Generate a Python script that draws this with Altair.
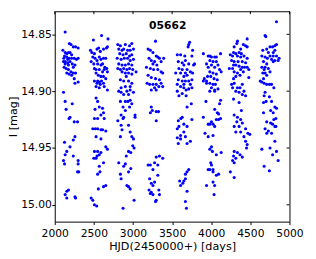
import altair as alt
import pandas as pd

# Observing seasons: (HJD-2450000, I mag)
season1 = [(2133,14.848),(2104,14.864),(2133,14.866),(2154,14.867),(2175,14.866),(2195,14.866),(2216,14.868),
           (2187,14.858),(2208,14.859),(2237,14.861),(2266,14.861),(2299,14.862),(2125,14.869),(2154,14.870),
           (2183,14.871),(2216,14.871),(2249,14.871),(2278,14.872),(2299,14.871),(2112,14.874),(2133,14.876),
           (2166,14.875),(2195,14.874),(2224,14.876),(2258,14.877),(2120,14.879),(2145,14.880),(2175,14.881),
           (2208,14.883),(2237,14.884),(2266,14.884),(2154,14.884),(2183,14.885),(2216,14.886),(2249,14.889),
           (2299,14.892),(2258,14.893),(2133,14.874),(2175,14.877),(2116,14.871),(2166,14.872),(2237,14.879),
           (2112,14.901),(2133,14.909),(2145,14.916),(2224,14.911),(2195,14.923),(2183,14.924),(2249,14.927),
           (2291,14.927),(2125,14.945),(2154,14.953),(2133,14.956),(2112,14.961),(2125,14.964),(2195,14.949),
           (2237,14.943),(2258,14.940),(2237,14.957),(2299,14.961),(2299,14.964),(2291,14.971),(2307,14.971),
           (2154,14.988),(2175,14.987),(2133,14.991),(2154,14.994),(2266,14.994),(2258,14.993)]
season2 = [(2494,14.855),(2598,14.851),(2681,14.854),(2457,14.864),(2474,14.866),(2507,14.867),(2540,14.863),
           (2561,14.862),(2582,14.865),(2623,14.863),(2661,14.862),(2673,14.861),(2486,14.870),(2515,14.871),
           (2540,14.873),(2569,14.870),(2590,14.872),(2623,14.871),(2652,14.871),(2465,14.874),(2499,14.876),
           (2548,14.876),(2590,14.877),(2611,14.876),(2640,14.879),(2665,14.880),(2507,14.880),(2528,14.881),
           (2569,14.881),(2611,14.883),(2632,14.881),(2673,14.883),(2528,14.884),(2557,14.886),(2590,14.887),
           (2623,14.887),(2548,14.891),(2569,14.892),(2598,14.891),(2540,14.893),(2582,14.894),(2623,14.893),
           (2528,14.896),(2569,14.897),(2673,14.899),(2632,14.896),(2507,14.891),(2652,14.889),
           (2528,14.906),(2548,14.909),(2515,14.916),(2569,14.914),(2611,14.915),(2507,14.924),(2548,14.924),
           (2590,14.921),(2623,14.919),(2632,14.924),(2486,14.933),(2519,14.933),(2548,14.933),(2590,14.934),
           (2611,14.934),(2652,14.935),(2528,14.940),(2590,14.942),(2507,14.953),(2548,14.953),(2569,14.956),
           (2590,14.954),(2540,14.957),(2528,14.959),(2499,14.959),(2623,14.963),(2652,14.949),(2673,14.951),
           (2569,14.966),(2578,14.971),(2548,14.973),(2652,14.983),(2623,14.984),(2557,14.986),(2465,14.994),
           (2486,14.996),(2507,15.000),(2536,15.001)]
season3 = [(2806,14.859),(2839,14.860),(2902,14.859),(2956,14.860),(2985,14.858),(2818,14.863),(2860,14.864),
           (2881,14.863),(2931,14.864),(2964,14.864),(3006,14.863),(2831,14.867),(2873,14.868),(2914,14.867),
           (2956,14.869),(2985,14.868),(2798,14.871),(2848,14.872),(2889,14.871),(2931,14.871),(2964,14.873),
           (3006,14.872),(2818,14.876),(2860,14.877),(2902,14.877),(2943,14.876),(2985,14.877),(2806,14.880),
           (2839,14.881),(2881,14.880),(2922,14.881),(2956,14.880),(2997,14.881),(3039,14.883),(2860,14.883),
           (2902,14.884),(2943,14.884),(2985,14.885),(2914,14.887),(2839,14.890),(2881,14.891),(2943,14.891),
           (2985,14.893),(2848,14.897),(2902,14.896),(2964,14.896),
           (2818,14.900),(2848,14.901),(2881,14.903),(2922,14.900),(2943,14.903),(2964,14.899),(3006,14.901),
           (2839,14.909),(2902,14.909),(2935,14.909),(2964,14.908),(2985,14.911),(2873,14.914),(2902,14.917),
           (2956,14.914),(3026,14.921),(3026,14.923),(2848,14.921),(2881,14.923),(2873,14.924),(2806,14.926),
           (2848,14.930),(2860,14.934),(2839,14.940),(2943,14.930),(2964,14.936),(2985,14.940),(3006,14.942),
           (2997,14.948),(3014,14.950),(2943,14.953),(2972,14.954),(2914,14.957),(2818,14.963),(2839,14.973),
           (2848,14.977),(2902,14.964),(2881,14.966),(2943,14.971),(2972,14.968),(2943,14.984),(2964,14.986),
           (2922,14.983),(2873,15.003),(3014,14.996)]
season4 = [(3288,14.856),(3193,14.863),(3222,14.864),(3255,14.866),(3297,14.869),(3317,14.870),(3338,14.871),
           (3205,14.871),(3234,14.873),(3276,14.874),(3255,14.876),(3305,14.877),(3359,14.874),(3392,14.871),
           (3172,14.879),(3222,14.880),(3263,14.881),(3317,14.881),(3359,14.883),(3380,14.884),(3193,14.886),
           (3234,14.888),(3288,14.889),(3338,14.890),(3359,14.893),(3180,14.893),(3213,14.894),(3255,14.894),
           (3297,14.894),(3330,14.896),(3234,14.899),(3276,14.897),(3297,14.899),(3380,14.896),
           (3234,14.914),(3247,14.917),(3297,14.918),(3326,14.918),(3297,14.926),(3222,14.919),
           (3193,14.965),(3222,14.965),(3297,14.958),(3338,14.957),(3276,14.963),(3317,14.965),(3380,14.959),
           (3255,14.969),(3213,14.977),(3234,14.981),(3255,14.983),(3276,14.980),(3317,14.974),(3205,14.987),
           (3234,14.989),(3255,14.991),(3297,14.996),(3288,14.997),(3330,14.987),(3338,14.991),(3222,14.990)]
season5 = [(3724,14.857),(3712,14.859),(3704,14.861),(3566,14.868),(3608,14.868),(3662,14.869),(3762,14.864),
           (3753,14.869),(3670,14.873),(3579,14.874),(3629,14.875),(3650,14.877),(3712,14.876),(3774,14.877),
           (3787,14.876),(3587,14.880),(3629,14.881),(3691,14.881),(3733,14.883),(3670,14.884),(3608,14.884),
           (3546,14.884),(3650,14.887),(3691,14.886),(3762,14.884),(3579,14.890),(3629,14.891),(3670,14.891),
           (3712,14.891),(3753,14.890),(3733,14.894),(3566,14.894),(3608,14.896),(3650,14.897),(3679,14.899),
           (3712,14.898),(3753,14.897),(3650,14.894),(3566,14.900),(3587,14.904),(3629,14.902),(3679,14.904),
           (3745,14.911),(3691,14.914),(3579,14.926),(3612,14.924),(3629,14.923),(3650,14.929),(3691,14.931),
           (3753,14.925),(3566,14.933),(3587,14.931),(3566,14.941),(3608,14.942),(3608,14.939),(3670,14.940),
           (3650,14.936),(3691,14.946),(3733,14.944),(3579,14.946),
           (3712,14.969),(3691,14.971),(3670,14.973),(3670,14.977),(3650,14.979),(3596,14.979),(3608,14.983),
           (3637,14.981),(3691,14.988),(3670,14.997),(3683,15.003)]
season6 = [(3899,14.867),(3961,14.869),(3982,14.869),(4003,14.870),(4044,14.870),(4065,14.870),(4119,14.867),
           (3982,14.873),(4023,14.874),(4065,14.874),(3940,14.876),(3961,14.879),(4003,14.877),(4044,14.879),
           (4086,14.877),(4106,14.881),(4127,14.883),(3982,14.883),(4023,14.884),(4065,14.885),(3953,14.887),
           (3994,14.887),(4036,14.889),(4077,14.890),(3911,14.889),(3899,14.891),(3940,14.893),(3982,14.893),
           (4023,14.894),(4053,14.894),(4003,14.897),(4044,14.899),(4086,14.898),(3982,14.900),(4044,14.900),
           (3940,14.891),
           (3932,14.909),(4119,14.908),(4106,14.911),(4044,14.916),(4077,14.919),(4094,14.920),(4119,14.924),
           (4065,14.925),(4094,14.925),(3899,14.923),(3982,14.929),(4023,14.929),(4044,14.931),(4003,14.927),
           (3961,14.929),(3920,14.937),(3961,14.940),(4023,14.939),(4003,14.949),(3982,14.951),(4015,14.953),
           (4065,14.956),(4127,14.954),
           (3994,14.963),(4003,14.965),(3961,14.969),(3982,14.969),(4023,14.969),(4023,14.971),(4065,14.974),
           (4094,14.973),(4023,14.980),(4044,14.983),(3940,14.983),(4036,14.991)]
season7 = [(4459,14.854),(4335,14.856),(4327,14.858),(4410,14.859),(4439,14.860),(4459,14.861),(4293,14.861),
           (4376,14.863),(4285,14.866),(4314,14.867),(4356,14.866),(4385,14.867),(4244,14.868),(4273,14.869),
           (4335,14.869),(4376,14.870),(4418,14.869),(4459,14.871),(4260,14.873),(4293,14.874),(4343,14.874),
           (4397,14.874),(4439,14.875),(4285,14.877),(4314,14.877),(4356,14.878),(4397,14.879),(4426,14.879),
           (4459,14.879),(4231,14.880),(4273,14.880),(4376,14.881),(4410,14.883),(4480,14.881),(4293,14.883),
           (4335,14.884),(4368,14.886),(4314,14.887),(4285,14.889),(4480,14.888),(4260,14.894),(4293,14.893),
           (4335,14.897),(4397,14.894),(4368,14.897),(4273,14.897),(4314,14.900),(4356,14.901),(4397,14.903),
           (4439,14.904),(4418,14.900),
           (4285,14.907),(4356,14.910),(4385,14.917),(4293,14.921),(4335,14.923),(4376,14.925),(4327,14.927),
           (4397,14.928),(4293,14.931),(4356,14.931),(4314,14.936),(4376,14.936),(4439,14.933),(4468,14.937),
           (4493,14.938),(4418,14.940),(4439,14.944),
           (4459,14.947),(4451,14.950),(4293,14.953),(4335,14.954),(4368,14.956),(4285,14.957),(4314,14.959),
           (4273,14.961),(4293,14.963),(4397,14.958),(4244,14.971),(4293,14.976)]
season8 = [(4834,14.839),(4688,14.851),(4697,14.852),(4659,14.864),(4709,14.863),(4751,14.861),(4813,14.860),
           (4834,14.859),(4784,14.861),(4730,14.866),(4792,14.866),(4813,14.864),(4647,14.869),(4688,14.870),
           (4751,14.869),(4792,14.869),(4834,14.869),(4718,14.871),(4771,14.872),(4813,14.873),(4855,14.873),
           (4867,14.871),(4668,14.874),(4709,14.876),(4792,14.874),(4647,14.879),(4688,14.879),(4730,14.880),
           (4676,14.881),(4659,14.884),(4688,14.884),(4709,14.886),(4751,14.883),(4668,14.889),(4626,14.891),
           (4647,14.892),(4676,14.893),(4709,14.894),(4743,14.894),(4771,14.894),(4800,14.897),
           (4688,14.901),(4676,14.904),(4743,14.905),(4701,14.909),(4771,14.909),(4668,14.910),(4813,14.914),
           (4834,14.915),(4759,14.917),(4792,14.919),(4668,14.919),(4800,14.925),(4826,14.924),(4709,14.927),
           (4759,14.928),(4784,14.929),(4813,14.931),(4826,14.931),(4688,14.933),(4730,14.935),(4771,14.937),
           (4709,14.937),
           (4813,14.944),(4647,14.951),(4751,14.950),(4834,14.953),(4784,14.956),(4855,14.961),(4676,14.966),
           (4743,14.970)]

seasons = [season1, season2, season3, season4, season5, season6, season7, season8]
star_id = ["05662"]
x_ticks = [2000, 2500, 3000, 3500, 4000, 4500, 5000]
y_ticks = [14.85, 14.90, 14.95, 15.00]

df = pd.DataFrame([{"hjd": h, "mag": m} for s in seasons for h, m in s])

W, H = 241, 216
FONT = "DejaVu Sans"
xscale = alt.Scale(domain=[2000, 5000], nice=False, zero=False)
yscale = alt.Scale(domain=[14.8297, 15.0148], reverse=True, nice=False, zero=False)

common_axis = dict(grid=False, domain=False, tickSize=3, tickColor="black", tickWidth=1,
                   labelFont=FONT, labelFontSize=11, labelColor="black",
                   titleFont=FONT, titleFontWeight="normal", titleColor="black",
                   labelOverlap=False, labelFlush=False)

x_axis = alt.Axis(values=x_ticks, format="d", title="HJD(2450000+) [days]", titleFontSize=11.5,
                  labelPadding=3, titleY=29, titleBaseline="alphabetic", **common_axis)
y_axis = alt.Axis(values=y_ticks, format=".2f", title="I [mag]", titleFontSize=11.5,
                  labelPadding=0.5, titleX=-39.5, titleY=108, titleAngle=270,
                  titleAlign="center", titleBaseline="alphabetic", **common_axis)

points = alt.Chart(df).mark_circle(size=10, color="#0000ff", opacity=1).encode(
    x=alt.X("hjd:Q", scale=xscale, axis=x_axis),
    y=alt.Y("mag:Q", scale=yscale, axis=y_axis),
)

top_ticks = alt.Chart(pd.DataFrame({"hjd": x_ticks})).mark_rule(color="black", strokeWidth=1).encode(
    x=alt.X("hjd:Q", scale=xscale, axis=x_axis), y=alt.value(0), y2=alt.value(3))
right_ticks = alt.Chart(pd.DataFrame({"mag": y_ticks})).mark_rule(color="black", strokeWidth=1).encode(
    y=alt.Y("mag:Q", scale=yscale, axis=y_axis), x=alt.value(W - 3), x2=alt.value(W))

label = alt.Chart(pd.DataFrame({"label": star_id})).mark_text(
    font=FONT, fontSize=11, fontWeight="bold", color="black", align="center", baseline="alphabetic"
).encode(text="label:N", x=alt.value(116), y=alt.value(17.7))

chart = alt.layer(points, top_ticks, right_ticks, label).properties(
    width=W, height=H,
    padding={"left": 48, "top": 0, "right": 19, "bottom": 35},
    autosize=alt.AutoSizeParams(type="none"),
).configure_view(stroke="black", strokeWidth=1)

chart.save("out.html", embed_options={"renderer": "svg", "actions": False})
